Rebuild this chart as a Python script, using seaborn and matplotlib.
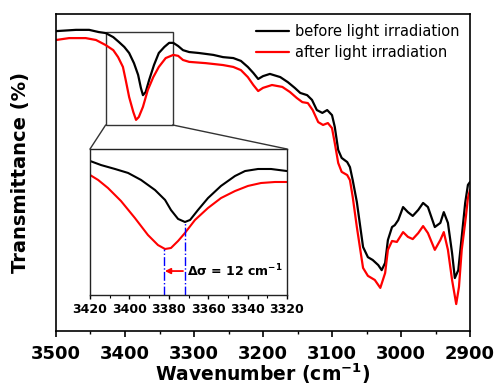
#!/usr/bin/env python3
"""FTIR spectra before / after light irradiation with zoomed inset."""

import matplotlib
matplotlib.use('Agg')
import matplotlib.pyplot as plt
from matplotlib.patches import Rectangle, ConnectionPatch
from matplotlib.ticker import MultipleLocator
import seaborn as sns

sns.set_style('ticks')
plt.rcParams['font.family'] = ['DejaVu Sans']
plt.rcParams['mathtext.default'] = 'bf'
plt.rcParams['text.color'] = 'black'
plt.rcParams['axes.labelcolor'] = 'black'
plt.rcParams['xtick.color'] = 'black'
plt.rcParams['ytick.color'] = 'black'

# ---- main spectrum (wavenumber cm-1, transmittance a.u.) ----
wn_before = [3500, 3471, 3452, 3438, 3428, 3417, 3409, 3401, 3394, 3387, 3381, 3377,
             3374, 3370, 3365, 3358, 3351, 3343, 3336, 3330, 3323, 3316, 3307, 3293,
             3272, 3258, 3243, 3232, 3222, 3214, 3207, 3200, 3190, 3175, 3164, 3154,
             3146, 3136, 3129, 3122, 3114, 3107, 3100, 3096, 3091, 3086, 3078, 3074,
             3070, 3064, 3059, 3055, 3048, 3041, 3033, 3028, 3023, 3019, 3013, 3009,
             3004, 2997, 2990, 2983, 2975, 2968, 2961, 2951, 2943, 2938, 2932, 2926,
             2922, 2917, 2912, 2907, 2903, 2900]
t_before = [94.6, 95.0, 95.0, 94.3, 94.0, 92.7, 91.2, 89.6, 87.7, 84.5, 80.8, 76.7,
            74.4, 75.4, 79.2, 83.9, 87.7, 89.6, 90.9, 90.9, 89.9, 88.6, 88.0, 87.7,
            87.1, 86.4, 86.1, 85.2, 83.3, 81.4, 79.5, 80.4, 81.1, 80.1, 78.5, 76.7,
            75.1, 74.4, 72.9, 69.7, 68.8, 69.7, 68.1, 64.4, 57.1, 54.6, 53.3, 51.7,
            47.6, 40.7, 32.8, 26.5, 23.3, 22.4, 20.8, 19.2, 21.5, 28.7, 32.8, 33.4,
            35.0, 39.1, 37.5, 36.3, 38.2, 40.4, 39.1, 32.8, 34.1, 37.5, 34.1, 24.6,
            16.7, 19.2, 29.7, 40.4, 46.1, 47.0]

wn_after = [3500, 3481, 3457, 3442, 3428, 3417, 3410, 3403, 3399, 3394, 3388, 3384,
            3380, 3374, 3367, 3359, 3351, 3341, 3330, 3323, 3316, 3307, 3283, 3258,
            3243, 3232, 3222, 3214, 3207, 3200, 3187, 3172, 3161, 3151, 3143, 3135,
            3128, 3120, 3113, 3106, 3100, 3096, 3091, 3086, 3078, 3074, 3070, 3064,
            3059, 3055, 3048, 3038, 3030, 3023, 3019, 3013, 3006, 2997, 2990, 2983,
            2975, 2968, 2961, 2951, 2943, 2938, 2932, 2926, 2920, 2916, 2912, 2906,
            2903, 2900]
t_after = [91.8, 92.4, 92.4, 91.8, 90.2, 88.6, 86.4, 83.3, 79.2, 73.8, 69.1, 66.6,
           67.5, 70.7, 76.0, 80.1, 83.3, 86.1, 87.1, 86.8, 85.5, 84.9, 84.5, 83.9,
           83.3, 82.3, 80.1, 77.6, 75.7, 76.7, 77.6, 77.0, 75.4, 73.5, 72.2, 71.9,
           69.7, 65.9, 65.0, 65.6, 64.0, 59.3, 53.0, 50.2, 49.2, 47.6, 42.3, 32.8,
           25.6, 19.9, 17.4, 16.1, 13.6, 18.3, 25.6, 28.4, 28.1, 31.2, 29.7, 29.0,
           30.9, 33.1, 30.9, 25.6, 28.7, 31.2, 25.6, 16.1, 8.5, 13.9, 25.6, 36.0,
           42.0, 44.5]

# ---- inset (3420 - 3320 cm-1) ----
wn_in_before = [3420, 3414.4, 3407.3, 3400.7, 3394.1, 3387.0, 3381.9, 3378.9, 3375.3,
                3371.8, 3369.2, 3365.2, 3360.1, 3353.5, 3346.4, 3341.3, 3334.7,
                3328.1, 3320]
t_in_before = [91.8, 89.0, 86.3, 83.6, 78.8, 71.9, 65.1, 58.2, 52.1, 50.0, 51.4,
               58.2, 66.4, 74.7, 81.5, 84.9, 86.3, 86.3, 84.9]
wn_in_after = [3420, 3415.9, 3410.9, 3404.3, 3397.2, 3390.6, 3385.5, 3381.9, 3378.9,
               3375.3, 3371.8, 3366.7, 3360.1, 3353.5, 3346.4, 3339.8, 3333.2,
               3326.1, 3320]
t_in_after = [82.2, 78.8, 73.3, 64.4, 52.7, 41.1, 34.2, 31.5, 32.2, 37.0, 42.5,
              51.4, 59.6, 66.4, 71.2, 74.7, 76.7, 77.4, 77.4]

peak_before = 3371.6
peak_after = 3382.2
shift_label = r'$\Delta\sigma$ = 12 cm$^{-1}$'

fig = plt.figure(figsize=(4.96, 3.88), dpi=100)
ax = fig.add_axes([0.1129, 0.1469, 0.8347, 0.8170])

sns.lineplot(x=wn_before, y=t_before, color='black', linewidth=1.6,
             label='before light irradiation', ax=ax)
sns.lineplot(x=wn_after, y=t_after, color='red', linewidth=1.6,
             label='after light irradiation', ax=ax)

ax.set_xlim(3500, 2900)
ax.set_ylim(0, 100)
ax.set_yticks([])
ax.xaxis.set_major_locator(MultipleLocator(100))
ax.xaxis.set_minor_locator(MultipleLocator(50))
ax.tick_params(axis='x', which='major', direction='out', length=4, width=1.2,
               labelsize=13, pad=6)
ax.tick_params(axis='x', which='minor', direction='out', length=2.5, width=1.0)
for lbl in ax.get_xticklabels():
    lbl.set_fontweight('bold')
for sp in ax.spines.values():
    sp.set_linewidth(1.2)
    sp.set_color('black')
ax.set_xlabel('Wavenumber (cm$^{-1}$)', fontsize=13.5, fontweight='bold', labelpad=-1)
ax.set_ylabel('Transmittance (%)', fontsize=14, fontweight='bold', labelpad=19)

ax.legend(loc='upper right', bbox_to_anchor=(1.0, 1.0), frameon=False,
          fontsize=10.5, handlelength=2.3, handletextpad=0.4,
          labelspacing=0.4, borderaxespad=0.3)

# zoom box on the main spectrum
box = Rectangle((3428, 65.0), 3331 - 3428, 94.3 - 65.0, fill=False,
                edgecolor='#333333', linewidth=1.0)
ax.add_patch(box)

# inset
axin = fig.add_axes([0.1815, 0.2397, 0.3971, 0.3763])
sns.lineplot(x=wn_in_before, y=t_in_before, color='black', linewidth=1.5,
             legend=False, ax=axin)
sns.lineplot(x=wn_in_after, y=t_in_after, color='red', linewidth=1.5,
             legend=False, ax=axin)
axin.set_xlim(3420, 3320)
axin.set_ylim(0, 100)
axin.set_yticks([])
axin.xaxis.set_major_locator(MultipleLocator(20))
axin.xaxis.set_minor_locator(MultipleLocator(10))
axin.tick_params(axis='x', which='major', direction='out', length=3, width=1.0,
                 labelsize=9, pad=3)
axin.tick_params(axis='x', which='minor', direction='out', length=2, width=0.8)
for lbl in axin.get_xticklabels():
    lbl.set_fontweight('bold')
for sp in axin.spines.values():
    sp.set_linewidth(1.0)
    sp.set_color('#222222')
axin.set_xlabel('')
axin.set_ylabel('')

# peak position markers
axin.plot([peak_after, peak_after], [0, min(t_in_after)], color='blue',
          linestyle='-.', linewidth=1.0)
axin.plot([peak_before, peak_before], [0, min(t_in_before)], color='blue',
          linestyle='-.', linewidth=1.0)
axin.annotate('', xy=(peak_after - 0.2, 16.4), xytext=(peak_before + 1.2, 16.4),
              arrowprops=dict(arrowstyle='-|>', color='red', lw=1.3,
                              mutation_scale=8, shrinkA=0, shrinkB=0))
axin.text(peak_before - 1.0, 16.4, shift_label, fontsize=9, fontweight='bold',
          ha='left', va='center')

# connectors from box to inset
for (xa, xb) in [((3428, 65.0), (0, 1)), ((3331, 65.0), (1, 1))]:
    con = ConnectionPatch(xyA=xa, coordsA=ax.transData, xyB=xb,
                          coordsB=axin.transAxes, color='#333333', linewidth=1.0)
    fig.add_artist(con)

plt.savefig('out.png', dpi=100)
plt.close()
